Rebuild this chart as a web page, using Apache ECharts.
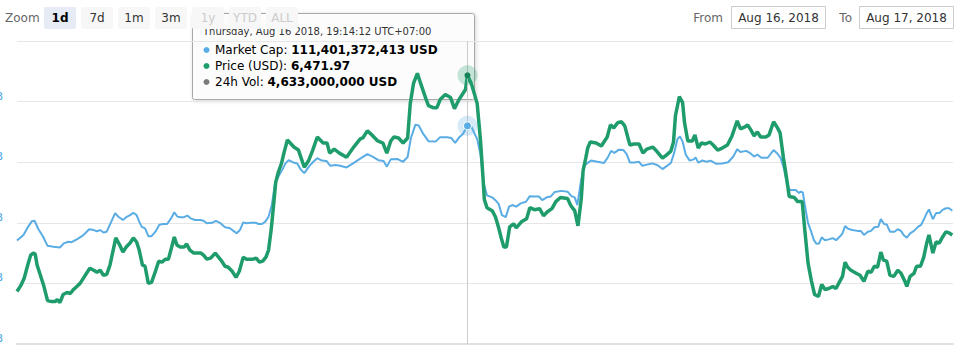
<!DOCTYPE html>
<html>
<head>
<meta charset="utf-8">
<script src="https://cdn.jsdelivr.net/npm/echarts@6/dist/echarts.min.js"></script>
<style>
html,body{margin:0;padding:0;background:#fff;}
#chart{width:963px;height:355px;}
</style>
</head>
<body>
<div id="chart"></div>
<script>
// ---- DATA ----
// time origin: Aug 16 2018 07:41:36 UTC+07:00 ; offsets in minutes
const startUtc = Date.UTC(2018, 7, 16, 0, 41, 36);
const rangeMinutes = 1440;

// Market Cap (billions USD)
const capMinutes = [
  0,10,17,23,27,33,40,47,56,66,
  72,79,84,92,100,105,111,118,123,128,
  133,138,144,151,156,163,168,174,179,184,
  188,192,197,202,207,213,219,225,231,237,
  242,247,252,257,262,267,274,282,287,292,
  300,306,313,320,327,333,338,343,348,353,
  359,367,372,377,382,387,392,397,402,408,
  413,418,424,431,437,442,450,457,462,469,
  476,482,490,497,507,517,528,539,547,556,
  564,569,575,585,594,601,606,613,618,625,
  633,644,651,662,668,674,680,686,693,699,
  708,713,718,723,731,736,741,746,752,757,
  762,768,775,783,789,795,803,808,815,821,
  827,838,847,853,858,862,868,872,877,883,
  893,903,909,914,919,926,933,938,943,950,
  957,962,969,977,985,993,1000,1006,1011,1016,
  1020,1024,1029,1035,1041,1044,1048,1054,1061,1067,
  1076,1085,1094,1102,1108,1113,1122,1129,1134,1139,
  1145,1155,1161,1164,1170,1175,1180,1185,1189,1198,
  1203,1206,1209,1212,1217,1221,1226,1230,1234,1238,
  1243,1249,1255,1260,1266,1270,1274,1278,1285,1293,
  1298,1303,1309,1314,1319,1325,1329,1334,1338,1343,
  1350,1355,1360,1364,1369,1374,1380,1386,1391,1396,
  1400,1403,1409,1414,1419,1424,1429,1434,1439
];
const capValues = [
  108.56,108.70,108.90,109.04,109.05,108.84,108.66,108.43,108.41,108.39,
  108.49,108.53,108.52,108.59,108.67,108.74,108.84,108.82,108.79,108.82,
  108.76,108.78,108.99,109.24,109.15,109.07,109.14,109.19,109.25,109.19,
  109.03,108.90,108.86,108.67,108.67,108.78,108.95,108.97,108.97,109.11,
  109.26,109.15,109.14,109.14,109.18,109.11,109.07,109.07,109.05,108.99,
  109.00,109.05,108.99,108.89,108.87,108.80,108.74,108.82,109.01,108.99,
  109.00,109.00,108.97,108.97,109.03,109.15,109.44,109.98,110.14,110.31,
  110.47,110.55,110.50,110.47,110.31,110.23,110.41,110.53,110.60,110.54,
  110.53,110.41,110.43,110.41,110.37,110.47,110.59,110.70,110.64,110.55,
  110.53,110.39,110.57,110.58,110.51,110.63,111.10,111.43,111.41,111.20,
  111.02,111.01,111.12,111.12,111.10,110.98,111.11,111.20,111.40,111.38,
  111.07,110.70,109.98,109.68,109.63,109.56,109.47,109.19,109.14,109.40,
  109.44,109.40,109.48,109.52,109.66,109.65,109.65,109.56,109.63,109.65,
  109.76,109.79,109.77,109.66,109.63,109.44,110.06,110.39,110.47,110.54,
  110.51,110.48,110.62,110.78,110.73,110.81,110.80,110.70,110.49,110.49,
  110.51,110.41,110.44,110.47,110.43,110.33,110.41,110.48,110.73,111.07,
  111.14,111.01,110.68,110.54,110.57,110.62,110.49,110.54,110.51,110.54,
  110.46,110.47,110.50,110.64,110.82,110.75,110.78,110.71,110.64,110.69,
  110.61,110.61,110.74,110.80,110.71,110.60,110.33,109.94,109.81,109.81,
  109.74,109.77,109.75,109.44,108.99,108.82,108.57,108.48,108.49,108.64,
  108.57,108.59,108.62,108.57,108.66,108.74,108.92,108.86,108.82,108.80,
  108.80,108.70,108.78,108.80,108.89,108.90,109.09,108.97,108.96,108.78,
  108.78,108.84,108.80,108.70,108.63,108.74,108.80,108.90,108.95,109.11,
  109.25,109.33,109.09,109.24,109.24,109.32,109.36,109.36,109.30
];

// Price (USD)
const priceMinutes = [
  0,6,11,16,21,25,28,31,36,41,
  47,53,59,62,66,71,77,82,87,92,
  97,102,107,112,118,123,128,133,138,143,
  148,152,158,163,168,174,179,184,188,193,
  197,202,207,213,218,223,228,233,238,242,
  246,251,257,261,266,272,277,283,287,292,
  298,305,310,315,320,325,331,337,342,348,
  353,358,363,368,373,378,383,387,391,395,
  398,402,407,411,416,426,433,442,449,455,
  462,471,477,481,488,496,507,518,528,532,
  539,546,555,563,569,575,580,587,594,601,
  605,610,616,621,629,633,640,646,651,659,
  667,673,680,687,690,693,699,708,713,717,
  719,723,731,736,741,745,749,753,758,764,
  768,776,784,789,796,804,810,816,823,829,
  836,847,852,858,863,868,871,875,878,882,
  891,899,908,913,918,924,930,935,940,943,
  949,957,963,969,978,984,993,999,1006,1010,
  1013,1019,1024,1027,1032,1039,1043,1048,1053,1059,
  1066,1071,1078,1085,1093,1100,1108,1113,1120,1124,
  1129,1134,1139,1144,1152,1157,1164,1170,1174,1179,
  1184,1188,1196,1201,1205,1208,1212,1217,1222,1227,
  1233,1238,1243,1249,1255,1260,1265,1270,1274,1278,
  1283,1291,1297,1303,1309,1314,1319,1324,1329,1333,
  1338,1343,1349,1355,1360,1366,1369,1374,1380,1384,
  1390,1395,1400,1403,1409,1414,1419,1424,1429,1434,1439
];
const priceValues = [
  6258,6264,6271,6283,6294,6296,6295,6284,6274,6264,
  6249,6248,6248,6250,6247,6255,6257,6256,6260,6263,
  6266,6271,6276,6281,6279,6277,6279,6274,6275,6284,
  6299,6311,6304,6297,6302,6306,6311,6307,6299,6284,
  6283,6266,6267,6278,6288,6287,6290,6290,6302,6312,
  6304,6302,6302,6305,6299,6296,6296,6296,6294,6290,
  6291,6296,6292,6288,6283,6282,6278,6272,6278,6292,
  6290,6290,6290,6291,6287,6288,6292,6299,6319,6345,
  6366,6376,6385,6396,6408,6401,6398,6381,6388,6398,
  6411,6405,6405,6395,6399,6395,6391,6401,6409,6410,
  6417,6413,6407,6405,6395,6407,6411,6410,6405,6410,
  6444,6464,6474,6464,6449,6442,6440,6440,6448,6453,
  6450,6439,6448,6455,6458,6471.97,6464,6444,6408,6370,
  6349,6341,6338,6332,6321,6311,6302,6302,6322,6325,
  6321,6327,6330,6341,6339,6340,6333,6337,6340,6347,
  6351,6350,6343,6338,6323,6349,6378,6390,6400,6406,
  6405,6402,6411,6423,6420,6425,6426,6422,6410,6403,
  6404,6404,6395,6399,6401,6397,6390,6393,6397,6406,
  6432,6451,6445,6425,6407,6407,6413,6400,6405,6404,
  6406,6403,6398,6400,6403,6412,6427,6419,6421,6423,
  6418,6412,6416,6411,6411,6413,6426,6420,6415,6391,
  6370,6352,6351,6347,6347,6347,6319,6286,6269,6255,
  6253,6265,6260,6261,6263,6261,6267,6273,6287,6282,
  6279,6276,6274,6268,6278,6277,6283,6282,6297,6289,
  6288,6274,6273,6279,6276,6268,6263,6273,6276,6283,
  6283,6292,6307,6314,6296,6307,6306,6312,6317,6316,6314
];

// axis ticks (market cap, billions) and hidden price axis range
const capAxis = { min: 106, max: 113.5, step: 1.5 };
const priceAxis = { min: 6206, max: 6506, step: 60 };

// hovered point + tooltip texts
const hoverMinute = 693;
const tooltipHeader = 'Thursday, Aug 16 2018, 19:14:12 UTC+07:00';
const tooltipLabels = ['Market Cap', 'Price (USD)', '24h Vol'];
const tooltipValues = ['111,401,372,413 USD', '6,471.97', '4,633,000,000 USD'];

// range selector texts
const zoomLabel = 'Zoom';
const zoomButtons = ['1d', '7d', '1m', '3m', '1y', 'YTD', 'ALL'];
const selectedButton = '1d';
const disabledButtons = ['1y', 'YTD', 'ALL'];
const fromLabel = 'From', toLabel = 'To';
const fromDate = 'Aug 16, 2018', toDate = 'Aug 17, 2018';

// ---- CHART ----
const BLUE = '#5aade4';
const GREEN = '#1f9c6b';
const VOLC = '#7b7b7b';
const FONT = '"DejaVu Sans", "Lucida Grande", Arial, sans-serif';
const toT = m => startUtc + m * 60000;

const capData = capMinutes.map((m, i) => [toT(m), capValues[i]]);
const priceData = priceMinutes.map((m, i) => [toT(m), priceValues[i]]);
const hoverT = toT(hoverMinute);
const hoverCap = capValues[capMinutes.indexOf(hoverMinute)];
const hoverPrice = priceValues[priceMinutes.indexOf(hoverMinute)];

const chart = echarts.init(document.getElementById('chart'), null, { renderer: 'svg' });

// graphic: range selector
const graphics = [];
graphics.push({ type: 'text', x: 5, y: 18, z: 50,
  style: { text: zoomLabel, fill: '#666666', font: '12px ' + FONT, align: 'left', verticalAlign: 'middle', textAlign: 'left', textVerticalAlign: 'middle' } });
zoomButtons.forEach((b, i) => {
  const x = 44 + i * 37;
  const sel = b === selectedButton;
  const dis = disabledButtons.indexOf(b) >= 0;
  graphics.push({ type: 'rect', z: 50, shape: { x: x, y: 7, width: 32, height: 22, r: 2 },
    style: { fill: sel ? '#e6ebf5' : '#f7f7f7' } });
  graphics.push({ type: 'text', z: 51, x: x + 16, y: 18,
    style: { text: b, fill: sel ? '#000000' : (dis ? '#cccccc' : '#333333'),
      font: (sel ? 'bold ' : '') + '12px ' + FONT,
      align: 'center', verticalAlign: 'middle', textAlign: 'center', textVerticalAlign: 'middle' } });
});
graphics.push({ type: 'text', z: 50, x: 723, y: 18,
  style: { text: fromLabel, fill: '#666666', font: '12px ' + FONT, align: 'right', verticalAlign: 'middle', textAlign: 'right', textVerticalAlign: 'middle' } });
graphics.push({ type: 'rect', z: 50, shape: { x: 731.5, y: 6.5, width: 94, height: 22 },
  style: { fill: '#ffffff', stroke: '#cccccc', lineWidth: 1 } });
graphics.push({ type: 'text', z: 51, x: 778.5, y: 18,
  style: { text: fromDate, fill: '#333333', font: '12px ' + FONT, align: 'center', verticalAlign: 'middle', textAlign: 'center', textVerticalAlign: 'middle' } });
graphics.push({ type: 'text', z: 50, x: 852, y: 18,
  style: { text: toLabel, fill: '#666666', font: '12px ' + FONT, align: 'right', verticalAlign: 'middle', textAlign: 'right', textVerticalAlign: 'middle' } });
graphics.push({ type: 'rect', z: 50, shape: { x: 859.5, y: 6.5, width: 94, height: 22 },
  style: { fill: '#ffffff', stroke: '#cccccc', lineWidth: 1 } });
graphics.push({ type: 'text', z: 51, x: 906.5, y: 18,
  style: { text: toDate, fill: '#333333', font: '12px ' + FONT, align: 'center', verticalAlign: 'middle', textAlign: 'center', textVerticalAlign: 'middle' } });

// graphic: tooltip box
const ttColors = [BLUE, GREEN, VOLC];
const ttChildren = [
  { type: 'rect', shape: { x: 0.5, y: 0.5, width: 282, height: 86, r: 2 },
    style: { fill: 'rgba(255,255,255,0.85)', stroke: '#a8a8a8', lineWidth: 1,
      shadowBlur: 4, shadowOffsetX: 1, shadowOffsetY: 1, shadowColor: 'rgba(0,0,0,0.18)' } },
  { type: 'text', x: 11, y: 18,
    style: { text: tooltipHeader, fill: '#333333', font: '10px ' + FONT, align: 'left', verticalAlign: 'middle', textAlign: 'left', textVerticalAlign: 'middle' } }
];
tooltipLabels.forEach((lab, i) => {
  const cy = 37 + i * 16;
  ttChildren.push({ type: 'circle', shape: { cx: 14.5, cy: cy, r: 3 }, style: { fill: ttColors[i] } });
  ttChildren.push({ type: 'text', x: 23, y: cy,
    style: { text: '{n|' + lab + ': }{b|' + tooltipValues[i] + '}', align: 'left', verticalAlign: 'middle', textAlign: 'left', textVerticalAlign: 'middle',
      rich: { n: { fontSize: 12, fontFamily: FONT, color: '#333333' },
              b: { fontSize: 12, fontFamily: FONT, color: '#333333', fontWeight: 'bold' } } } });
});
graphics.push({ type: 'group', x: 192, y: 13, z: 100, children: ttChildren });

const option = {
  animation: false,
  backgroundColor: '#ffffff',
  textStyle: { fontFamily: FONT },
  grid: { left: 17, right: 10, top: 41, bottom: 11, containLabel: false, outerBoundsMode: 'none' },
  xAxis: {
    type: 'time', min: toT(0), max: toT(rangeMinutes),
    axisLine: { show: true, lineStyle: { color: '#e0e0e0', width: 2 } },
    axisTick: { show: false }, axisLabel: { show: false }, splitLine: { show: false }
  },
  yAxis: [
    { type: 'value', min: capAxis.min, max: capAxis.max, interval: capAxis.step,
      axisLine: { show: false }, axisTick: { show: false },
      splitLine: { lineStyle: { color: '#e6e6e6', width: 1 } },
      axisLabel: { show: true, showMaxLabel: false, formatter: v => v + 'B', color: '#4ea6e6',
        fontSize: 11, margin: 14, align: 'right', verticalAlign: 'bottom' } },
    { type: 'value', min: priceAxis.min, max: priceAxis.max, interval: priceAxis.step, show: false,
      splitLine: { show: false } }
  ],
  series: [
    { name: 'Market Cap', type: 'line', yAxisIndex: 0, data: capData, showSymbol: false,
      lineStyle: { color: BLUE, width: 2 }, itemStyle: { color: BLUE }, z: 2,
      markLine: { silent: true, symbol: ['none', 'none'], label: { show: false },
        lineStyle: { color: '#cccccc', width: 1, type: 'solid' }, data: [{ xAxis: hoverT }] },
      markPoint: { silent: true, label: { show: false }, data: [
        { coord: [hoverT, hoverCap], symbol: 'circle', symbolSize: 20, itemStyle: { color: BLUE, opacity: 0.25 } },
        { coord: [hoverT, hoverCap], symbol: 'circle', symbolSize: 8, itemStyle: { color: BLUE, borderColor: '#ffffff', borderWidth: 1 } }
      ] } },
    { name: 'Price (USD)', type: 'line', yAxisIndex: 1, data: priceData, showSymbol: false,
      lineStyle: { color: GREEN, width: 3.5 }, itemStyle: { color: GREEN }, z: 3,
      markPoint: { silent: true, label: { show: false }, data: [
        { coord: [hoverT, hoverPrice], symbol: 'circle', symbolSize: 20, itemStyle: { color: GREEN, opacity: 0.25 } },
        { coord: [hoverT, hoverPrice], symbol: 'circle', symbolSize: 6, itemStyle: { color: '#17825a' } }
      ] } }
  ],
  graphic: graphics
};
chart.setOption(option);
</script>
</body>
</html>
